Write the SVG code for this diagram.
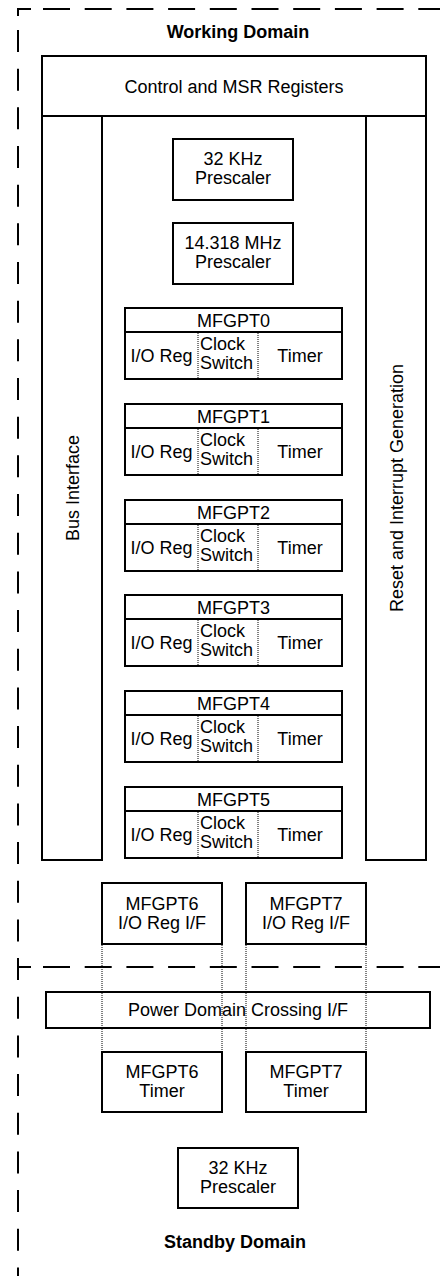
<svg xmlns="http://www.w3.org/2000/svg" width="440" height="1276" viewBox="0 0 440 1276">
<style>
.box{fill:#fff;stroke:#000;stroke-width:2}
.ln{stroke:#000;stroke-width:2;fill:none}
.dot{stroke:#000;stroke-width:1;stroke-dasharray:1 1;fill:none}
.dh{stroke:#000;stroke-width:2;fill:none;stroke-dasharray:27 14.7}
.dv{stroke:#000;stroke-width:2;fill:none;stroke-dasharray:22 16.67}
.sl{stroke:#000;stroke-width:2;fill:none}
.t{font-family:"Liberation Sans",Arial,Helvetica,sans-serif;font-size:18px;text-anchor:middle;fill:#000}
.s{text-anchor:start}
.b{font-weight:bold}
</style>
<defs>
<g id="mfgpt">
<rect class="box" x="125" y="0" width="217" height="71"/>
<line class="ln" x1="125" y1="24" x2="342" y2="24"/>
<line class="dot" x1="198" y1="25" x2="198" y2="70"/>
<line class="dot" x1="258" y1="25" x2="258" y2="70"/>
<text class="t" x="161.5" y="54">I/O Reg</text>
<text class="t s" x="200" y="41.5">Clock</text>
<text class="t s" x="200" y="60.5">Switch</text>
<text class="t" x="300" y="54">Timer</text>
</g>
</defs>
<g id="domains">
<path class="sl" d="M18,16 V9 H31"/>
<path class="dh" d="M43,9 H440"/>
<path class="dv" d="M18,30 V1276"/>
<path class="sl" d="M18,967 H31"/>
<path class="dh" d="M43,967 H440"/>
<text class="t b" x="238" y="38">Working Domain</text>
<text class="t b" x="235" y="1248">Standby Domain</text>
</g>
<g id="control"><rect class="box" x="42" y="56" width="384" height="60"/><text class="t" x="234" y="92.5">Control and MSR Registers</text></g>
<g id="bus"><rect class="box" x="42" y="116" width="60" height="744"/><text class="t" transform="translate(78.5,488) rotate(-90)">Bus Interface</text></g>
<g id="reset"><rect class="box" x="366" y="116" width="60" height="744"/><text class="t" transform="translate(402.5,488) rotate(-90)">Reset and Interrupt Generation</text></g>
<g id="pre32"><rect class="box" x="173" y="139" width="120" height="61"/><text class="t" x="233" y="165">32 KHz</text><text class="t" x="233" y="183.5">Prescaler</text></g>
<g id="pre14"><rect class="box" x="173" y="223" width="120" height="61"/><text class="t" x="233" y="249">14.318 MHz</text><text class="t" x="233" y="267.5">Prescaler</text></g>
<g id="mfgpt0" transform="translate(0,308)"><use href="#mfgpt"/><text class="t" x="233.5" y="18.5">MFGPT0</text></g>
<g id="mfgpt1" transform="translate(0,404)"><use href="#mfgpt"/><text class="t" x="233.5" y="18.5">MFGPT1</text></g>
<g id="mfgpt2" transform="translate(0,500)"><use href="#mfgpt"/><text class="t" x="233.5" y="18.5">MFGPT2</text></g>
<g id="mfgpt3" transform="translate(0,595)"><use href="#mfgpt"/><text class="t" x="233.5" y="18.5">MFGPT3</text></g>
<g id="mfgpt4" transform="translate(0,691)"><use href="#mfgpt"/><text class="t" x="233.5" y="18.5">MFGPT4</text></g>
<g id="mfgpt5" transform="translate(0,787)"><use href="#mfgpt"/><text class="t" x="233.5" y="18.5">MFGPT5</text></g>
<g id="mfgpt6if"><rect class="box" x="102" y="883" width="120" height="61"/><text class="t" x="162" y="909.5">MFGPT6</text><text class="t" x="162" y="928.5">I/O Reg I/F</text></g>
<g id="mfgpt7if"><rect class="box" x="246" y="883" width="120" height="61"/><text class="t" x="306" y="909.5">MFGPT7</text><text class="t" x="306" y="928.5">I/O Reg I/F</text></g>
<g id="pdc"><rect class="box" x="46" y="992" width="384" height="36"/><text class="t" x="238" y="1016">Power Domain Crossing I/F</text></g>
<g id="connectors">
<line class="dot" x1="102" y1="945" x2="102" y2="1051"/>
<line class="dot" x1="222" y1="945" x2="222" y2="1051"/>
<line class="dot" x1="246" y1="945" x2="246" y2="1051"/>
<line class="dot" x1="366" y1="945" x2="366" y2="1051"/>
</g>
<g id="mfgpt6t"><rect class="box" x="102" y="1052" width="120" height="60"/><text class="t" x="162" y="1078">MFGPT6</text><text class="t" x="162" y="1096.5">Timer</text></g>
<g id="mfgpt7t"><rect class="box" x="246" y="1052" width="120" height="60"/><text class="t" x="306" y="1078">MFGPT7</text><text class="t" x="306" y="1096.5">Timer</text></g>
<g id="pre32s"><rect class="box" x="178" y="1148" width="120" height="60"/><text class="t" x="238" y="1174">32 KHz</text><text class="t" x="238" y="1192.5">Prescaler</text></g>
</svg>
